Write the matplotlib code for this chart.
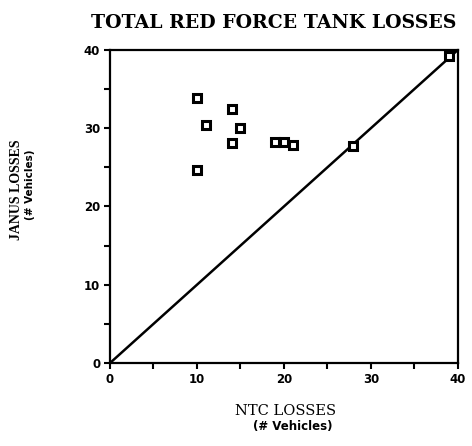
import numpy as np
import matplotlib
matplotlib.use("Agg")
import matplotlib.pyplot as plt
from matplotlib.ticker import MultipleLocator

# NTC losses (x) vs JANUS losses (y), vehicles
ntc_losses = [10, 11, 14, 15, 14, 10, 19, 20, 21, 28, 39]
janus_losses = [33.8, 30.4, 32.5, 30.0, 28.1, 24.7, 28.3, 28.2, 27.8, 27.7, 39.2]
ref_line = [0, 40]
ticks = [0, 10, 20, 30, 40]

fig = plt.figure(figsize=(4.72, 4.46), dpi=100)
ax = fig.add_axes([0.233, 0.186, 0.737, 0.702])

ax.plot(ref_line, ref_line, color="black", lw=1.8, zorder=2)
ax.plot(ntc_losses, janus_losses, ls="none", marker="s", ms=6,
        mfc="white", mec="black", mew=2.2, zorder=3)

ax.set_xlim(0, 40)
ax.set_ylim(0, 40)
ax.set_xticks(ticks)
ax.set_yticks(ticks)
ax.xaxis.set_minor_locator(MultipleLocator(5))
ax.yaxis.set_minor_locator(MultipleLocator(5))
ax.tick_params(which="both", direction="out", length=4, width=1.5,
               top=False, right=False)
ax.tick_params(labelsize=8.5, pad=3)
for lab in ax.get_xticklabels() + ax.get_yticklabels():
    lab.set_fontweight("bold")
for sp in ax.spines.values():
    sp.set_linewidth(1.6)

ax.set_title("TOTAL RED FORCE TANK LOSSES", family="DejaVu Serif",
             fontweight="bold", fontsize=13.6, pad=16, x=0.47)

fig.text(0.605, 0.078, "NTC LOSSES", family="DejaVu Serif",
         fontsize=10.5, ha="center", va="center")
fig.text(0.62, 0.044, "(# Vehicles)", fontweight="bold",
         fontsize=8.5, ha="center", va="center")
fig.text(0.036, 0.575, "JANUS LOSSES", family="Liberation Serif",
         fontweight="bold", fontsize=10, rotation=90, ha="center", va="center")
fig.text(0.064, 0.585, "(# Vehicles)", fontweight="bold",
         fontsize=7.5, rotation=90, ha="center", va="center")

fig.savefig("out.png", dpi=100)
